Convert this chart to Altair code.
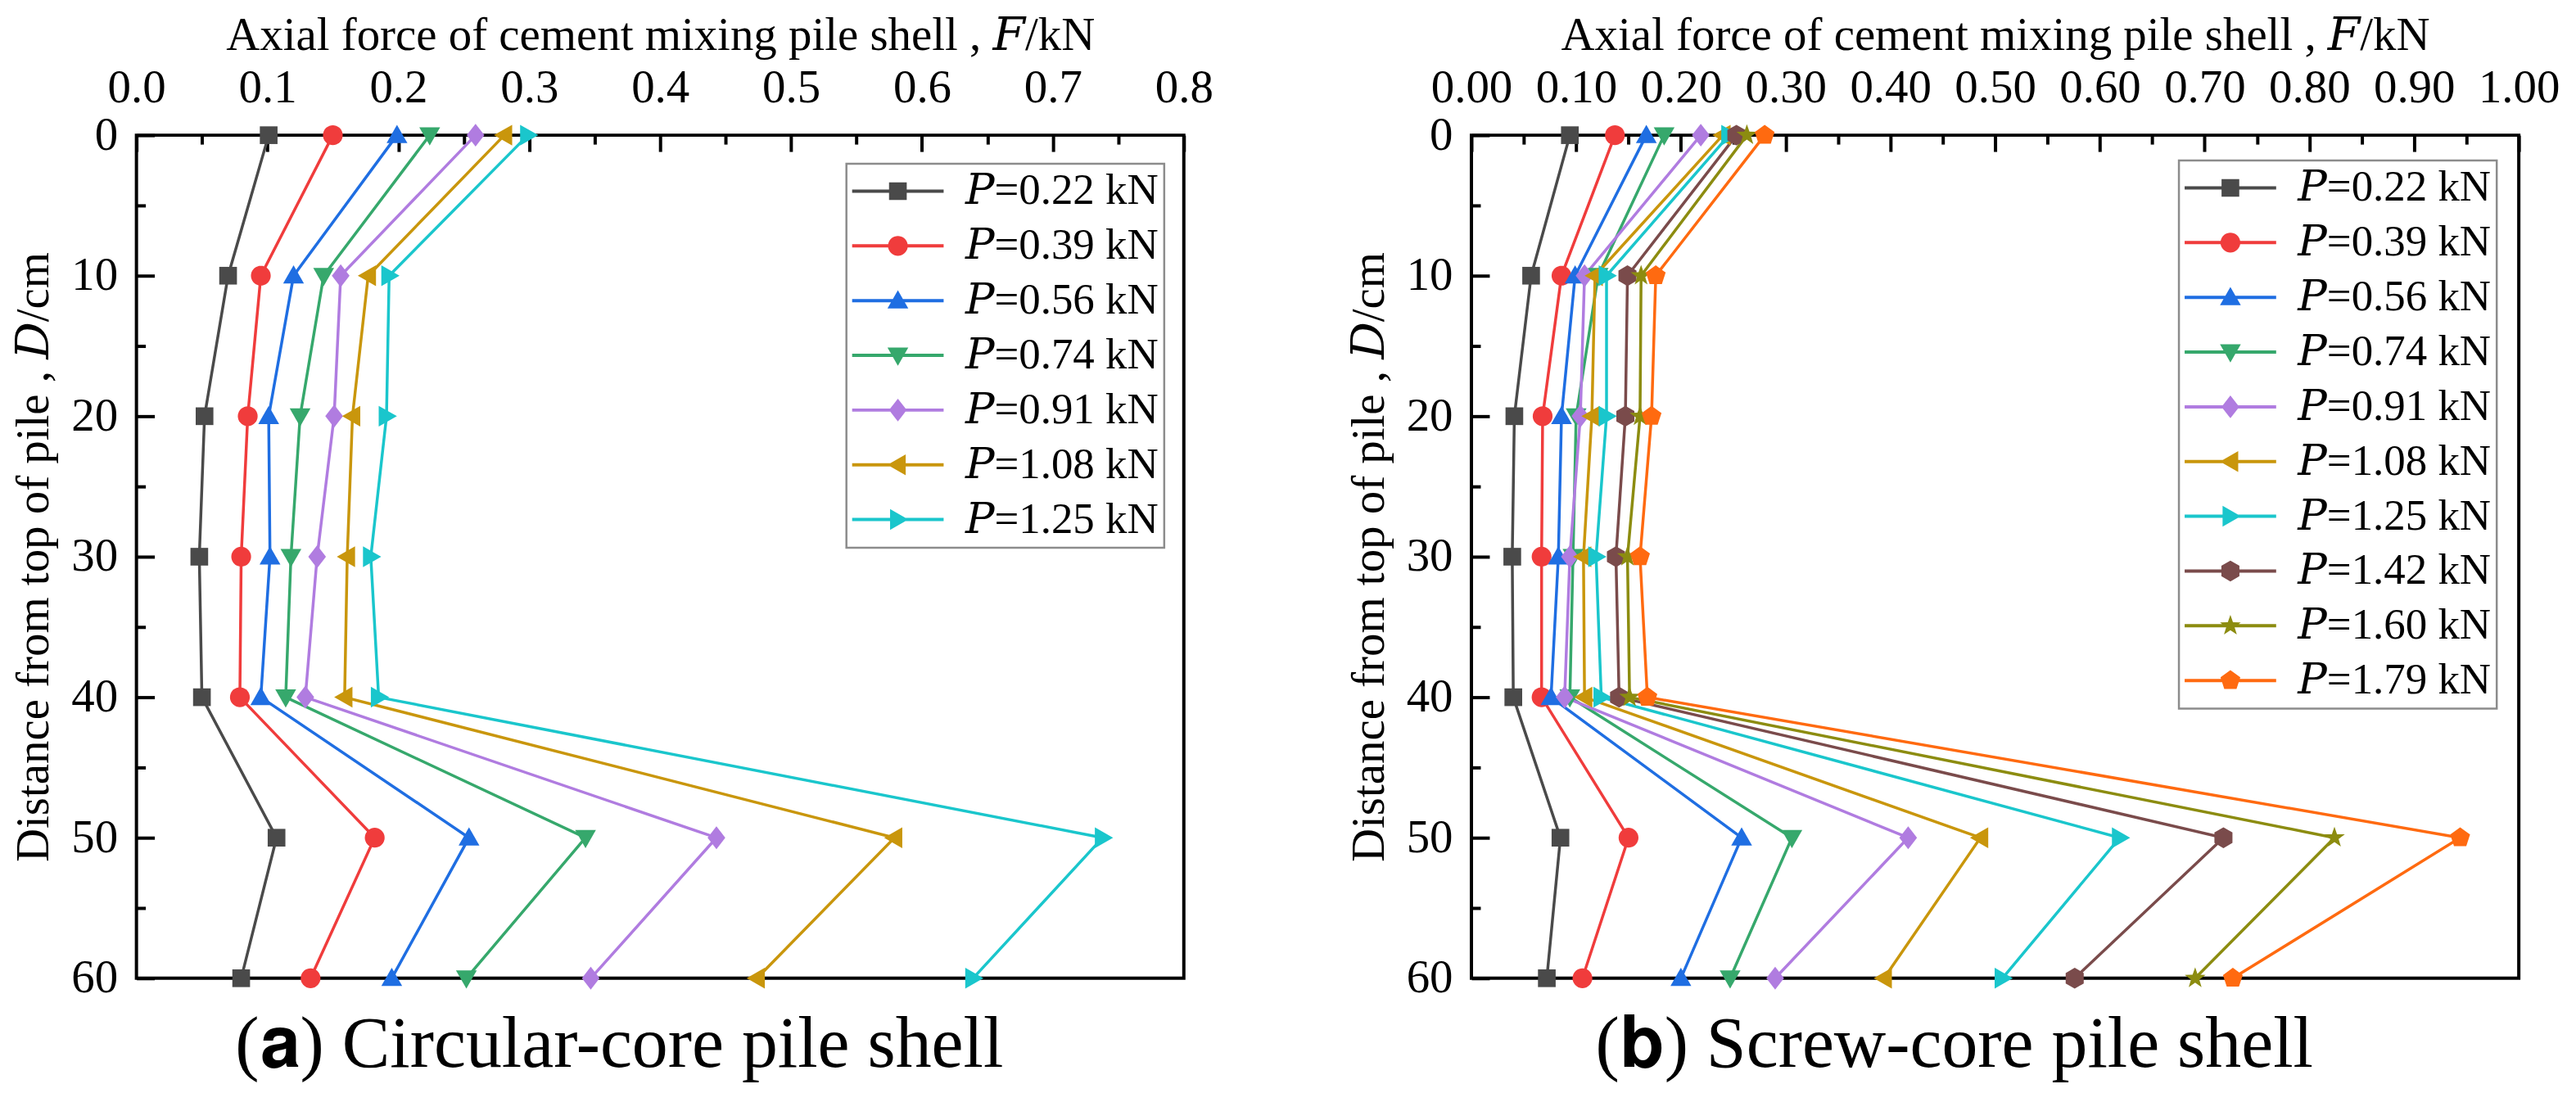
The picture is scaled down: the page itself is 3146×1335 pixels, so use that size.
import math
import altair as alt
import pandas as pd

FONT = "Liberation Serif, DejaVu Serif"

DEPTH_CM = [0, 10, 20, 30, 40, 50, 60]

# (a) Circular-core pile shell : axial force F (kN) at each depth
LOADS_A = ["0.22", "0.39", "0.56", "0.74", "0.91", "1.08", "1.25"]
A_022 = [0.101, 0.070, 0.052, 0.048, 0.050, 0.107, 0.080]
A_039 = [0.150, 0.095, 0.085, 0.080, 0.079, 0.182, 0.133]
A_056 = [0.199, 0.120, 0.101, 0.102, 0.095, 0.254, 0.195]
A_074 = [0.224, 0.143, 0.125, 0.118, 0.114, 0.343, 0.252]
A_091 = [0.259, 0.156, 0.151, 0.138, 0.129, 0.443, 0.347]
A_108 = [0.281, 0.177, 0.165, 0.161, 0.159, 0.579, 0.474]
A_125 = [0.299, 0.193, 0.191, 0.179, 0.185, 0.738, 0.639]

# (b) Screw-core pile shell
LOADS_B = ["0.22", "0.39", "0.56", "0.74", "0.91", "1.08", "1.25", "1.42", "1.60", "1.79"]
B_022 = [0.094, 0.057, 0.041, 0.039, 0.040, 0.085, 0.072]
B_039 = [0.137, 0.086, 0.068, 0.067, 0.067, 0.150, 0.106]
B_056 = [0.167, 0.099, 0.086, 0.083, 0.076, 0.258, 0.200]
B_074 = [0.184, 0.121, 0.100, 0.097, 0.094, 0.306, 0.247]
B_091 = [0.219, 0.108, 0.104, 0.094, 0.089, 0.417, 0.290]
B_108 = [0.240, 0.118, 0.115, 0.107, 0.108, 0.486, 0.394]
B_125 = [0.246, 0.129, 0.129, 0.119, 0.124, 0.619, 0.507]
B_142 = [0.253, 0.149, 0.147, 0.138, 0.141, 0.718, 0.576]
B_160 = [0.263, 0.162, 0.161, 0.149, 0.151, 0.824, 0.691]
B_179 = [0.280, 0.176, 0.172, 0.161, 0.168, 0.944, 0.727]

COLORS = ["#4a4a4a", "#f03c3c", "#1f6ee2", "#36a86c", "#b07ce0",
          "#c9960c", "#1ac6cc", "#7a4b4b", "#8c8c10", "#ff6a10"]
MARKERS = ["square", "circle", "triangle-up", "triangle-down", "diamond",
           "triangle-left", "triangle-right", "hexagon", "star", "pentagon"]

X_TICKS_A = [0.0, 0.1, 0.2, 0.3, 0.4, 0.5, 0.6, 0.7, 0.8]
X_MINOR_A = [0.0, 0.05, 0.1, 0.15, 0.2, 0.25, 0.3, 0.35, 0.4, 0.45, 0.5,
             0.55, 0.6, 0.65, 0.7, 0.75, 0.8]
X_TICKS_B = [0.0, 0.1, 0.2, 0.3, 0.4, 0.5, 0.6, 0.7, 0.8, 0.9, 1.0]
X_MINOR_B = [0.0, 0.05, 0.1, 0.15, 0.2, 0.25, 0.3, 0.35, 0.4, 0.45, 0.5,
             0.55, 0.6, 0.65, 0.7, 0.75, 0.8, 0.85, 0.9, 0.95, 1.0]
Y_TICKS = [0, 10, 20, 30, 40, 50, 60]
Y_MINOR = [0, 5, 10, 15, 20, 25, 30, 35, 40, 45, 50, 55, 60]

W, H = 1282, 1032


def polar(n, r, start=-90.0, r2=None):
    pts = []
    for i in range(n):
        rr = r if (r2 is None or i % 2 == 0) else r2
        a = math.radians(start + 360.0 * i / n)
        pts.append((rr * math.cos(a), rr * math.sin(a)))
    return pts


def marker_points(name):
    if name == "square":
        return [(-0.85, -0.85), (0.85, -0.85), (0.85, 0.85), (-0.85, 0.85)]
    if name == "circle":
        return polar(36, 0.95)
    if name == "triangle-up":
        return [(0, -1), (1, 0.75), (-1, 0.75)]
    if name == "triangle-down":
        return [(0, 1), (-1, -0.75), (1, -0.75)]
    if name == "diamond":
        return [(0, -1.1), (0.85, 0), (0, 1.1), (-0.85, 0)]
    if name == "triangle-left":
        return [(-1, 0), (0.75, -1), (0.75, 1)]
    if name == "triangle-right":
        return [(1, 0), (-0.75, 1), (-0.75, -1)]
    if name == "hexagon":
        return polar(6, 1.0)
    if name == "pentagon":
        return polar(5, 1.0)
    if name == "star":
        return polar(10, 1.05, r2=0.42)
    return polar(36, 1.0)


def to_path(pts, k=1.0):
    area = 0.0
    for i in range(len(pts)):
        x1, y1 = pts[i]
        x2, y2 = pts[(i + 1) % len(pts)]
        area += x1 * y2 - x2 * y1
    if area < 0:
        pts = list(reversed(pts))
    return "M" + "L".join(f"{x * k:.4f},{y * k:.4f}" for x, y in pts) + "Z"


# legend symbol: unit = 26.5 px (symbolSize 2809); line 112 px long, 4 px thick
LEGEND_LINE = "M-2.113,-0.0755H2.113V0.0755H-2.113Z"
LEGEND_K = 0.481


def panel(loads, series, xmax, xticks, xminor, fmt, legend_x, legend_y, caption):
    labels = [f"𝑃={ld} kN" for ld in loads]
    rows = []
    for i, (lab, vals) in enumerate(zip(labels, series)):
        for d, f in zip(DEPTH_CM, vals):
            rows.append({"label": lab, "idx": i, "D": d, "F": f})
    df = pd.DataFrame(rows)
    n = len(labels)
    colors = COLORS[:n]
    plain = [to_path(marker_points(m)) for m in MARKERS[:n]]
    leg_shapes = [LEGEND_LINE + to_path(marker_points(m), LEGEND_K) for m in MARKERS[:n]]

    xscale = alt.Scale(domain=[0, xmax], nice=False, zero=False)
    yscale = alt.Scale(domain=[0, 60], reverse=True, nice=False, zero=False)
    cscale = alt.Scale(domain=labels, range=colors)

    top_axis = alt.Axis(
        orient="top", values=xticks, format=fmt, labelFontSize=57, labelFont=FONT,
        labelPadding=29, ticks=False, tickSize=0, domain=False, grid=False,
        labelFlush=False, labelOverlap=False, labelColor="black",
        title="Axial force of cement mixing pile shell , 𝐹/kN", titleFont=FONT,
        titleFontSize=57, titleFontWeight="normal", titlePadding=6, titleColor="black",
    )
    left_axis = alt.Axis(
        orient="left", values=Y_TICKS, labelFontSize=57, labelFont=FONT,
        labelPadding=23, ticks=False, tickSize=0, domain=False, grid=False,
        labelFlush=False, labelOverlap=False, labelColor="black",
        title="Distance from top of pile , 𝐷/cm", titleFont=FONT,
        titleFontSize=57, titleFontWeight="normal", titlePadding=16, titleColor="black",
    )
    inner_x = alt.Axis(
        orient="bottom", offset=-H, values=xminor, labels=False, domain=False,
        grid=False, ticks=True, tickWidth=4, tickColor="black", title=None,
        tickSize={"condition": {"test": "abs(round(datum.value*20)) % 2 == 0", "value": 20}, "value": 11},
    )
    inner_y = alt.Axis(
        orient="right", offset=-W, values=Y_MINOR, labels=False, domain=False,
        grid=False, ticks=True, tickWidth=4, tickColor="black", title=None,
        tickSize={"condition": {"test": "datum.value % 10 == 0", "value": 22}, "value": 11},
    )
    leg = alt.Legend(
        title=None, orient="none", legendX=legend_x, legendY=legend_y,
        labelFont=FONT, labelFontSize=53, labelColor="black", labelLimit=0,
        labelOffset=56, symbolSize=2809, symbolOffset=29.5, symbolStrokeWidth=0,
        padding=7, rowPadding=13, strokeColor="#8c8c8c", fillColor="white",
        symbolOpacity=1,
    )

    base = alt.Chart(df)
    lines = base.mark_line(strokeWidth=3.5).encode(
        x=alt.X("F:Q", scale=xscale, axis=top_axis),
        y=alt.Y("D:Q", scale=yscale, axis=left_axis),
        color=alt.Color("label:N", scale=cscale, legend=None),
        order=alt.Order("D:Q"),
    )
    pts = base.mark_point(filled=True, size=650, opacity=1).encode(
        x=alt.X("F:Q", scale=xscale, axis=inner_x),
        y=alt.Y("D:Q", scale=yscale, axis=inner_y),
        color=alt.Color("label:N", scale=cscale, legend=None),
        shape=alt.Shape("label:N", scale=alt.Scale(domain=labels, range=plain), legend=None),
    )
    legpts = base.mark_point(filled=True, size=0, opacity=1).encode(
        x=alt.X("F:Q", scale=xscale, axis=None),
        y=alt.Y("D:Q", scale=yscale, axis=None),
        color=alt.Color("label:N", scale=cscale, legend=leg),
        shape=alt.Shape("label:N", scale=alt.Scale(domain=labels, range=leg_shapes), legend=leg),
    )
    return (
        alt.layer(lines, pts, legpts)
        .resolve_scale(color="independent", shape="independent")
        .properties(
            width=W, height=H,
            title=alt.TitleParams(
                text=caption, orient="bottom", anchor="middle", frame="group",
                font=FONT, fontSize=88, fontWeight="normal", color="black",
                offset=10, dx=-50,
            ),
        )
    )


left = panel(LOADS_A, [A_022, A_039, A_056, A_074, A_091, A_108, A_125],
             0.8, X_TICKS_A, X_MINOR_A, ".1f", 869, 35, "(𝐚) Circular-core pile shell")
right = panel(LOADS_B, [B_022, B_039, B_056, B_074, B_091, B_108, B_125, B_142, B_160, B_179],
              1.0, X_TICKS_B, X_MINOR_B, ".2f", 866, 31, "(𝐛) Screw-core pile shell")

chart = (
    alt.hconcat(left, right, spacing=352, bounds="flush")
    .resolve_scale(x="independent", y="independent", color="independent", shape="independent")
    .properties(padding={"left": 3, "top": 3, "right": 10, "bottom": 4}, background="white")
    .configure_view(stroke="black", strokeWidth=4)
    .configure_legend(strokeWidth=2.5)
)

chart.save("out.html", embed_options={"renderer": "svg", "actions": False})
